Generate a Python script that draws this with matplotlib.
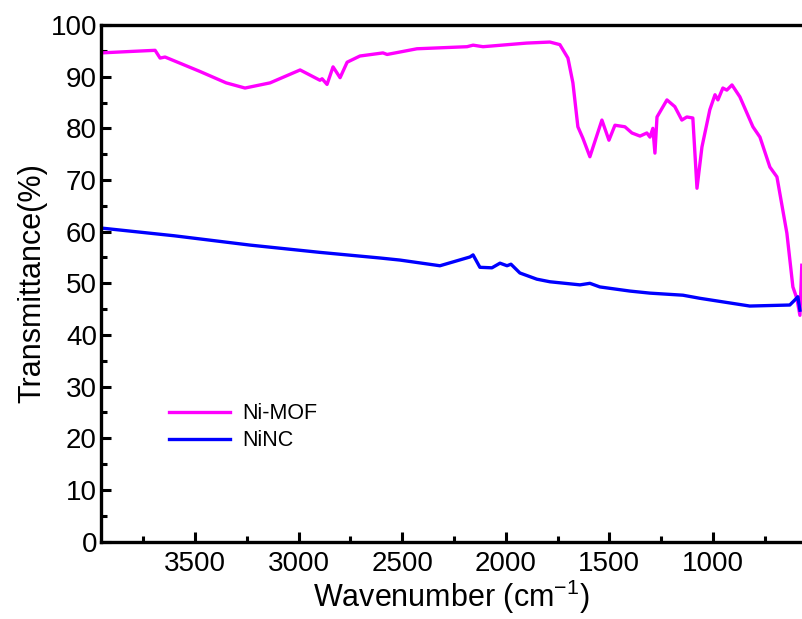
import matplotlib
matplotlib.use("Agg")
import matplotlib.pyplot as plt
from matplotlib.ticker import MultipleLocator

plt.rcParams['font.family'] = ['Liberation Sans', 'DejaVu Sans']

# Ni-MOF spectrum (wavenumber, transmittance %)
mof_wn = [3954, 3800, 3693, 3669, 3645, 3476, 3350, 3259, 3138, 2993, 2897, 2887,
          2863, 2834, 2800, 2766, 2704, 2593, 2573, 2429, 2187, 2158, 2110, 1900,
          1787, 1739, 1700, 1676, 1652, 1628, 1594, 1536, 1502, 1473, 1425, 1391,
          1352, 1319, 1304, 1290, 1280, 1270, 1222, 1184, 1150, 1126, 1097, 1077,
          1053, 1015, 990, 976, 952, 933, 908, 870, 807, 773, 725, 691, 643, 614,
          595, 580, 571]
mof_t = [94.6, 94.9, 95.1, 93.6, 93.8, 91.0, 88.8, 87.8, 88.8, 91.3, 89.3, 89.6,
         88.5, 91.9, 89.8, 92.8, 94.0, 94.6, 94.3, 95.4, 95.8, 96.1, 95.8, 96.5,
         96.7, 96.2, 93.6, 88.8, 80.3, 78.1, 74.5, 81.6, 77.7, 80.6, 80.3, 79.1,
         78.5, 79.1, 78.3, 80.0, 75.2, 82.2, 85.5, 84.2, 81.6, 82.2, 82.0, 68.4,
         76.4, 83.6, 86.5, 85.5, 87.8, 87.4, 88.4, 86.1, 80.3, 78.3, 72.5, 70.6,
         59.7, 49.3, 47.1, 43.8, 53.5]

# NiNC spectrum
ninc_wn = [3954, 3600, 3235, 2900, 2607, 2511, 2318, 2173, 2158, 2125, 2067, 2028,
           1994, 1975, 1932, 1850, 1787, 1642, 1594, 1546, 1401, 1304, 1145, 1063,
           822, 629, 604, 590, 580]
ninc_t = [60.7, 59.2, 57.4, 56.0, 54.9, 54.5, 53.4, 55.1, 55.5, 53.1, 53.0, 53.9,
          53.4, 53.7, 52.0, 50.8, 50.3, 49.7, 50.0, 49.3, 48.5, 48.1, 47.7, 47.1,
          45.6, 45.8, 46.8, 47.4, 44.8]

xticks = [3500, 3000, 2500, 2000, 1500, 1000]
yticks = list(range(0, 101, 10))

fig = plt.figure(figsize=(8.02, 6.19), dpi=100)
ax = fig.add_axes([0.126, 0.125, 0.874, 0.8346])

ax.plot(mof_wn, mof_t, color='#FF00FF', lw=2.4, label='Ni-MOF')
ax.plot(ninc_wn, ninc_t, color='#0000FF', lw=2.4, label='NiNC')

ax.set_xlim(3954, 570)
ax.set_ylim(0, 100)
ax.set_xticks(xticks)
ax.set_yticks(yticks)
ax.xaxis.set_minor_locator(MultipleLocator(250))
ax.yaxis.set_minor_locator(MultipleLocator(5))
ax.tick_params(which='both', direction='in', width=2.2, labelsize=20,
               top=False, right=False)
ax.tick_params(which='major', length=7.5)
ax.tick_params(which='minor', length=4)
ax.tick_params(axis='y', pad=3)
ax.tick_params(axis='x', pad=7)
for s in ['left', 'bottom', 'top']:
    ax.spines[s].set_linewidth(2.4)
ax.spines['right'].set_visible(False)

ax.set_xlabel('Wavenumber (cm$^{\\mathregular{-1}}$)', fontsize=22, labelpad=0)
ax.set_ylabel('Transmittance(%)', fontsize=22, labelpad=2)

ax.legend(loc='upper left', bbox_to_anchor=(0.07, 0.305), frameon=False,
          fontsize=15.5, handlelength=2.8, handletextpad=0.6, labelspacing=0.28)

fig.savefig('out.png', dpi=100)
